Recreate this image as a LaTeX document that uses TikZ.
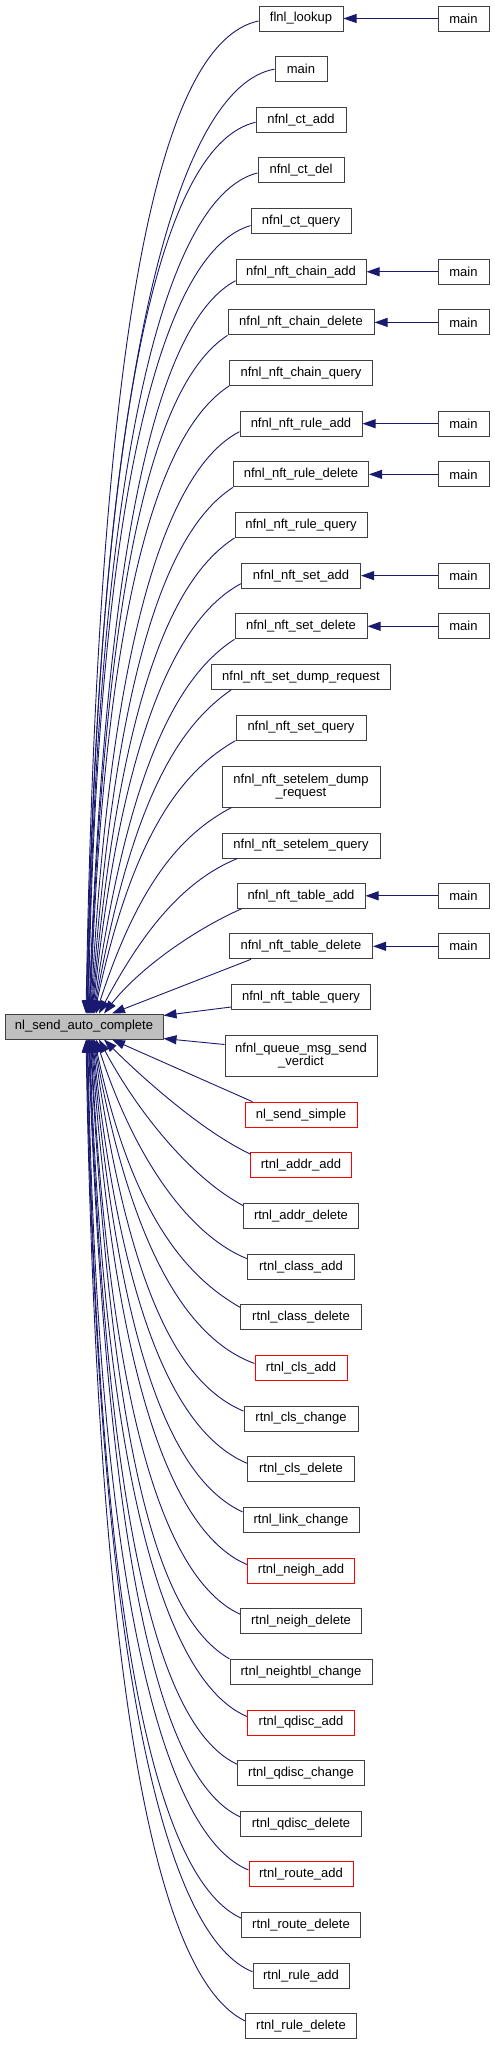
\documentclass[tikz,border=0pt]{standalone}
\usepackage{fontspec}
\setmainfont{Liberation Sans}
\usetikzlibrary{arrows.meta}
\definecolor{navy}{HTML}{191970}
\definecolor{boxgray}{HTML}{BFBFBF}
\begin{document}
\begin{tikzpicture}[x=1pt,y=1pt,
  box/.style={draw=black!75, line width=1pt, minimum height=25pt, inner sep=0pt, font=\fontsize{13}{13.5}\selectfont, fill=white, align=center},
  redbox/.style={box, draw=red},
  tallbox/.style={box, minimum height=41pt},
  edge/.style={draw=navy, line width=0.9pt, {Triangle[length=13pt,width=9pt]}-},
]
\useasboundingbox (0,0) rectangle (495,-2045);
% source node
\node[box, fill=boxgray, minimum width=158pt] (nsac) at (84,-1026.5) {nl\_send\_auto\_complete};
% callers
\node[box, minimum width=84pt]  (n1)  at (301,-18.5)   {flnl\_lookup};
\node[box, minimum width=52pt]  (n2)  at (301,-69.15)  {main};
\node[box, minimum width=90pt]  (n3)  at (301,-119.8)  {nfnl\_ct\_add};
\node[box, minimum width=86pt]  (n4)  at (301,-170.45) {nfnl\_ct\_del};
\node[box, minimum width=100pt] (n5)  at (301,-221.1)  {nfnl\_ct\_query};
\node[box, minimum width=130pt] (n6)  at (301,-271.75) {nfnl\_nft\_chain\_add};
\node[box, minimum width=146pt] (n7)  at (301,-322.4)  {nfnl\_nft\_chain\_delete};
\node[box, minimum width=143pt] (n8)  at (301,-373.05) {nfnl\_nft\_chain\_query};
\node[box, minimum width=122pt] (n9)  at (301,-423.7)  {nfnl\_nft\_rule\_add};
\node[box, minimum width=135pt] (n10) at (301,-474.35) {nfnl\_nft\_rule\_delete};
\node[box, minimum width=132pt] (n11) at (301,-525)    {nfnl\_nft\_rule\_query};
\node[box, minimum width=119pt] (n12) at (301,-575.65) {nfnl\_nft\_set\_add};
\node[box, minimum width=132pt] (n13) at (301,-626.3)  {nfnl\_nft\_set\_delete};
\node[box, minimum width=179pt] (n14) at (301,-676.95) {nfnl\_nft\_set\_dump\_request};
\node[box, minimum width=130pt] (n15) at (301,-727.6)  {nfnl\_nft\_set\_query};
\node[tallbox, minimum width=158pt] (n16) at (301,-786.5) {nfnl\_nft\_setelem\_dump\\\_request};
\node[box, minimum width=158pt] (n17) at (301,-845.5)  {nfnl\_nft\_setelem\_query};
\node[box, minimum width=128pt] (n18) at (301,-895.8)  {nfnl\_nft\_table\_add};
\node[box, minimum width=143pt] (n19) at (301,-946.3)  {nfnl\_nft\_table\_delete};
\node[box, minimum width=139pt] (n20) at (301,-997)    {nfnl\_nft\_table\_query};
\node[tallbox, minimum width=152pt] (n21) at (301,-1055.5) {nfnl\_queue\_msg\_send\\\_verdict};
\node[redbox, minimum width=112pt] (n22) at (301,-1114.7) {nl\_send\_simple};
\node[redbox, minimum width=101pt] (n23) at (301,-1165.35) {rtnl\_addr\_add};
\node[box, minimum width=115pt] (n24) at (301,-1216)    {rtnl\_addr\_delete};
\node[box, minimum width=107pt] (n25) at (301,-1266.65) {rtnl\_class\_add};
\node[box, minimum width=121pt] (n26) at (301,-1317.3)  {rtnl\_class\_delete};
\node[redbox, minimum width=92pt] (n27) at (301,-1367.95) {rtnl\_cls\_add};
\node[box, minimum width=114pt] (n28) at (301,-1418.6)  {rtnl\_cls\_change};
\node[box, minimum width=107pt] (n29) at (301,-1469.25) {rtnl\_cls\_delete};
\node[box, minimum width=116pt] (n30) at (301,-1519.9)  {rtnl\_link\_change};
\node[redbox, minimum width=107pt] (n31) at (301,-1570.55) {rtnl\_neigh\_add};
\node[box, minimum width=121pt] (n32) at (301,-1621.2)  {rtnl\_neigh\_delete};
\node[box, minimum width=142pt] (n33) at (301,-1671.85) {rtnl\_neightbl\_change};
\node[redbox, minimum width=107pt] (n34) at (301,-1722.5) {rtnl\_qdisc\_add};
\node[box, minimum width=127pt] (n35) at (301,-1773.15) {rtnl\_qdisc\_change};
\node[box, minimum width=121pt] (n36) at (301,-1823.8)  {rtnl\_qdisc\_delete};
\node[redbox, minimum width=104pt] (n37) at (301,-1874.45) {rtnl\_route\_add};
\node[box, minimum width=119pt] (n38) at (301,-1925.1)  {rtnl\_route\_delete};
\node[box, minimum width=96pt]  (n39) at (301,-1975.75) {rtnl\_rule\_add};
\node[box, minimum width=111pt] (n40) at (301,-2026.4)  {rtnl\_rule\_delete};
% second level callers
\node[box, minimum width=51pt] (m1)  at (463.5,-18.5)  {main};
\node[box, minimum width=51pt] (m6)  at (463.5,-271.75) {main};
\node[box, minimum width=51pt] (m7)  at (463.5,-322.4)  {main};
\node[box, minimum width=51pt] (m9)  at (463.5,-423.7)  {main};
\node[box, minimum width=51pt] (m10) at (463.5,-474.35) {main};
\node[box, minimum width=51pt] (m12) at (463.5,-575.65) {main};
\node[box, minimum width=51pt] (m13) at (463.5,-626.3)  {main};
\node[box, minimum width=51pt] (m18) at (463.5,-895.8)  {main};
\node[box, minimum width=51pt] (m19) at (463.5,-946.3)  {main};
\foreach \i in {1,6,7,9,10,12,13,18,19} { \draw[edge] (n\i) -- (m\i); }
% edges to the upper callers
\draw[edge] ([xshift=2pt]nsac.north)   to[out=89,in=192,out distance=700pt,in distance=100pt] ([yshift=-2.5pt]n1.west);
\draw[edge] ([xshift=2.6pt]nsac.north) to[out=89,in=190,out distance=665pt,in distance=95pt] (n2.west);
\draw[edge] ([xshift=3.2pt]nsac.north) to[out=89,in=193,out distance=630pt,in distance=92pt] ([yshift=-2.5pt]n3.west);
\draw[edge] ([xshift=3.8pt]nsac.north) to[out=89,in=194,out distance=590pt,in distance=88pt] ([yshift=-2.5pt]n4.west);
\draw[edge] ([xshift=4.4pt]nsac.north) to[out=89,in=196,out distance=550pt,in distance=85pt] ([yshift=-4.5pt]n5.west);
\draw[edge] ([xshift=5pt]nsac.north)   to[out=88,in=208,out distance=510pt,in distance=80pt] ([yshift=-9pt]n6.west);
\draw[edge] ([xshift=5.6pt]nsac.north) to[out=88,in=213,out distance=475pt,in distance=78pt] (n7.south west);
\draw[edge] ([xshift=6.2pt]nsac.north) to[out=88,in=213,out distance=440pt,in distance=75pt] (n8.south west);
\draw[edge] ([xshift=6.8pt]nsac.north) to[out=87,in=207,out distance=405pt,in distance=72pt] ([yshift=-8pt]n9.west);
\draw[edge] ([xshift=7.4pt]nsac.north) to[out=86,in=213,out distance=370pt,in distance=70pt] (n10.south west);
\draw[edge] ([xshift=8pt]nsac.north)   to[out=85,in=213,out distance=335pt,in distance=68pt] (n11.south west);
\draw[edge] ([xshift=8.6pt]nsac.north) to[out=84,in=208,out distance=300pt,in distance=65pt] ([yshift=-8pt]n12.west);
\draw[edge] ([xshift=9.2pt]nsac.north) to[out=82,in=213,out distance=260pt,in distance=62pt] (n13.south west);
\draw[edge] ([xshift=9.8pt]nsac.north) to[out=80,in=215,out distance=225pt,in distance=60pt] ([xshift=20pt]n14.south west);
\draw[edge] ([xshift=10.4pt]nsac.north) to[out=78,in=210,out distance=190pt,in distance=58pt] (n15.south west);
\draw[edge] ([xshift=12pt]nsac.north)  to[out=72,in=208,out distance=140pt,in distance=55pt] ([xshift=10pt]n16.south west);
\draw[edge] ([xshift=15pt]nsac.north)  to[out=62,in=202,out distance=90pt,in distance=60pt] ([xshift=16pt]n17.south west);
\draw[edge] ([xshift=20pt]nsac.north)  to[out=52,in=204,out distance=55pt,in distance=55pt] ([xshift=5pt]n18.south west);
\draw[edge] ([xshift=28pt]nsac.north)  -- ([xshift=22pt]n19.south west);
\draw[edge] ([yshift=-2pt]nsac.north east) -- ([yshift=3pt]n20.south west);
\draw[edge] ([yshift=1pt]nsac.south east) -- ([yshift=-10pt]n21.north west);
% edges to the lower callers
\draw[edge] ([xshift=28pt]nsac.south)  -- ([xshift=8pt]n22.north west);
\draw[edge] ([xshift=20pt]nsac.south)  to[out=-45,in=155,out distance=50pt,in distance=55pt] ([shift={(1pt,-2pt)}]n23.north west);
\draw[edge] ([xshift=15pt]nsac.south)  to[out=-62,in=152,out distance=80pt,in distance=60pt] ([yshift=-2.5pt]n24.north west);
\draw[edge] ([xshift=12pt]nsac.south)  to[out=-72,in=158,out distance=130pt,in distance=60pt] ([yshift=8pt]n25.west);
\draw[edge] ([xshift=10.4pt]nsac.south) to[out=-78,in=150,out distance=180pt,in distance=62pt] ([yshift=10pt]n26.west);
\draw[edge] ([xshift=9.8pt]nsac.south) to[out=-80,in=160,out distance=225pt,in distance=65pt] ([yshift=4.5pt]n27.west);
\draw[edge] ([xshift=9.2pt]nsac.south) to[out=-82,in=157,out distance=260pt,in distance=68pt] ([yshift=7.5pt]n28.west);
\draw[edge] ([xshift=8.6pt]nsac.south) to[out=-84,in=157,out distance=295pt,in distance=70pt] ([yshift=6pt]n29.west);
\draw[edge] ([xshift=8pt]nsac.south)   to[out=-85,in=155,out distance=330pt,in distance=72pt] ([yshift=8pt]n30.west);
\draw[edge] ([xshift=7.4pt]nsac.south) to[out=-86,in=157,out distance=365pt,in distance=74pt] ([yshift=6pt]n31.west);
\draw[edge] ([xshift=6.8pt]nsac.south) to[out=-87,in=155,out distance=400pt,in distance=76pt] ([yshift=7pt]n32.west);
\draw[edge] ([xshift=6.2pt]nsac.south) to[out=-87,in=150,out distance=435pt,in distance=78pt] (n33.north west);
\draw[edge] ([xshift=5.6pt]nsac.south) to[out=-88,in=157,out distance=475pt,in distance=80pt] ([yshift=6pt]n34.west);
\draw[edge] ([xshift=5pt]nsac.south)   to[out=-88,in=155,out distance=505pt,in distance=82pt] ([yshift=9pt]n35.west);
\draw[edge] ([xshift=4.4pt]nsac.south) to[out=-88,in=155,out distance=545pt,in distance=84pt] ([yshift=7pt]n36.west);
\draw[edge] ([xshift=3.8pt]nsac.south) to[out=-89,in=158,out distance=580pt,in distance=86pt] ([yshift=4.5pt]n37.west);
\draw[edge] ([xshift=3.2pt]nsac.south) to[out=-89,in=155,out distance=615pt,in distance=88pt] ([yshift=7pt]n38.west);
\draw[edge] ([xshift=2.6pt]nsac.south) to[out=-89,in=158,out distance=650pt,in distance=90pt] ([yshift=4pt]n39.west);
\draw[edge] ([xshift=2pt]nsac.south)   to[out=-89,in=154,out distance=690pt,in distance=92pt] ([yshift=5.5pt]n40.west);
\end{tikzpicture}
\end{document}
